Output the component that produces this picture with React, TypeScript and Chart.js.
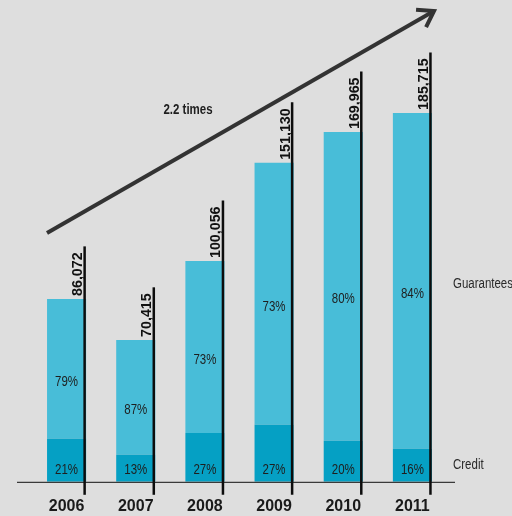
import React, { useEffect, useRef } from "react";
import { Chart, registerables } from "chart.js";

Chart.register(...registerables);

const years = ["2006", "2007", "2008", "2009", "2010", "2011"];
// segment heights as drawn in the picture (thousands)
const creditValues = [21.6, 13.6, 24.6, 28.7, 20.6, 16.6];
const guaranteeValues = [70.4, 57.8, 86.5, 131.8, 155.4, 169.0];
const totalLabels = ["86,072", "70,415", "100,056", "151,130", "169,965", "185,715"];
const creditPct = ["21%", "13%", "27%", "27%", "20%", "16%"];
const guaranteePct = ["79%", "87%", "73%", "73%", "80%", "84%"];
const seriesNames = ["Credit", "Guarantees"];
const growthLabel = "2.2 times";

const SANS = "'Liberation Sans', Arial, sans-serif";

function narrowText(
  ctx: CanvasRenderingContext2D,
  text: string,
  x: number,
  y: number,
  font: string,
  align: CanvasTextAlign,
  sx: number,
  color: string
) {
  ctx.save();
  ctx.translate(x, y);
  ctx.scale(sx, 1);
  ctx.font = font;
  ctx.fillStyle = color;
  ctx.textAlign = align;
  ctx.textBaseline = "middle";
  ctx.fillText(text, 0, 0);
  ctx.restore();
}

const overlay = {
  id: "overlay",
  afterDatasetsDraw(chart: any) {
    const ctx = chart.ctx as CanvasRenderingContext2D;
    const area = chart.chartArea;
    const credit = chart.getDatasetMeta(0).data;
    const guar = chart.getDatasetMeta(1).data;
    ctx.save();

    // baseline
    ctx.strokeStyle = "#111";
    ctx.lineWidth = 1;
    ctx.beginPath();
    ctx.moveTo(area.left - 15, area.bottom + 0.5);
    ctx.lineTo(area.right + 8, area.bottom + 0.5);
    ctx.stroke();

    guar.forEach((bar: any, i: number) => {
      const { x, y, width } = bar.getProps(["x", "y", "width"], true);
      const cb = credit[i].getProps(["y"], true);
      const right = x + width / 2;

      narrowText(ctx, guaranteePct[i], x, (y + cb.y) / 2 + 13, "14px " + SANS, "center", 0.82, "#1e1e1e");
      narrowText(ctx, creditPct[i], x, area.bottom - 12, "14px " + SANS, "center", 0.82, "#1e1e1e");

      const font = "bold 15px " + SANS;
      ctx.font = font;
      const sx = 0.95;
      const w = ctx.measureText(totalLabels[i]).width * sx;
      ctx.save();
      ctx.translate(right - 4, y - 3);
      ctx.rotate(-Math.PI / 2);
      ctx.scale(sx, 1);
      ctx.font = font;
      ctx.textAlign = "left";
      ctx.textBaseline = "alphabetic";
      ctx.fillStyle = "#111";
      ctx.fillText(totalLabels[i], 0, 0);
      ctx.restore();

      ctx.strokeStyle = "#0d0d0d";
      ctx.lineWidth = 2.5;
      ctx.beginPath();
      ctx.moveTo(right - 1.5, y - 3 - w - 6);
      ctx.lineTo(right - 1.5, area.bottom + 13);
      ctx.stroke();
    });

    // growth arrow
    const sx0 = area.left + 15, sy = 233, ex = area.right - 13, ey = 11;
    ctx.strokeStyle = "#333";
    ctx.lineWidth = 4;
    ctx.lineCap = "butt";
    ctx.beginPath();
    ctx.moveTo(sx0, sy);
    ctx.lineTo(ex, ey);
    ctx.stroke();
    const ang = Math.atan2(sy - ey, sx0 - ex);
    const hl = 18, spread = (34 * Math.PI) / 180;
    ctx.beginPath();
    ctx.moveTo(ex + hl * Math.cos(ang + spread), ey + hl * Math.sin(ang + spread));
    ctx.lineTo(ex, ey);
    ctx.lineTo(ex + hl * Math.cos(ang - spread), ey + hl * Math.sin(ang - spread));
    ctx.stroke();

    narrowText(ctx, growthLabel, 188, 110, "bold 14px " + SANS, "center", 0.82, "#1e1e1e");

    // series names
    const last = guar[guar.length - 1].getProps(["y"], true);
    const lastC = credit[credit.length - 1].getProps(["y"], true);
    narrowText(ctx, seriesNames[1], area.right + 6, (last.y + lastC.y) / 2 + 3, "14px " + SANS, "left", 0.82, "#2a2a2a");
    narrowText(ctx, seriesNames[0], area.right + 6, area.bottom - 17, "14px " + SANS, "left", 0.82, "#2a2a2a");

    ctx.restore();
  },
};

export default function App() {
  const ref = useRef<HTMLCanvasElement>(null);
  useEffect(() => {
    if (!ref.current) return;
    const chart = new Chart(ref.current, {
      type: "bar",
      data: {
        labels: years,
        datasets: [
          {
            label: seriesNames[0],
            data: creditValues,
            backgroundColor: "#05a0c4",
            borderWidth: 0,
            barPercentage: 0.565,
            categoryPercentage: 1,
          },
          {
            label: seriesNames[1],
            data: guaranteeValues,
            backgroundColor: "#48bdd8",
            borderWidth: 0,
            barPercentage: 0.565,
            categoryPercentage: 1,
          },
        ],
      },
      options: {
        responsive: false,
        animation: false,
        layout: { padding: { left: 32, right: 65, top: 10, bottom: -15 } },
        plugins: { legend: { display: false }, tooltip: { enabled: false } },
        scales: {
          x: {
            stacked: true,
            grid: { display: false, drawTicks: false },
            border: { display: false },
            ticks: {
              color: "#1a1a1a",
              padding: 15,
              font: { family: SANS, size: 16, weight: "bold" },
            },
          },
          y: { stacked: true, display: false, min: 0, max: 237.4 },
        },
      },
      plugins: [overlay],
    });
    return () => chart.destroy();
  }, []);
  return (
    <div style={{ position: "fixed", left: 0, top: 0, width: 512, height: 516, background: "#dedede" }}>
      <canvas ref={ref} width={512} height={516} style={{ display: "block" }} />
    </div>
  );
}
